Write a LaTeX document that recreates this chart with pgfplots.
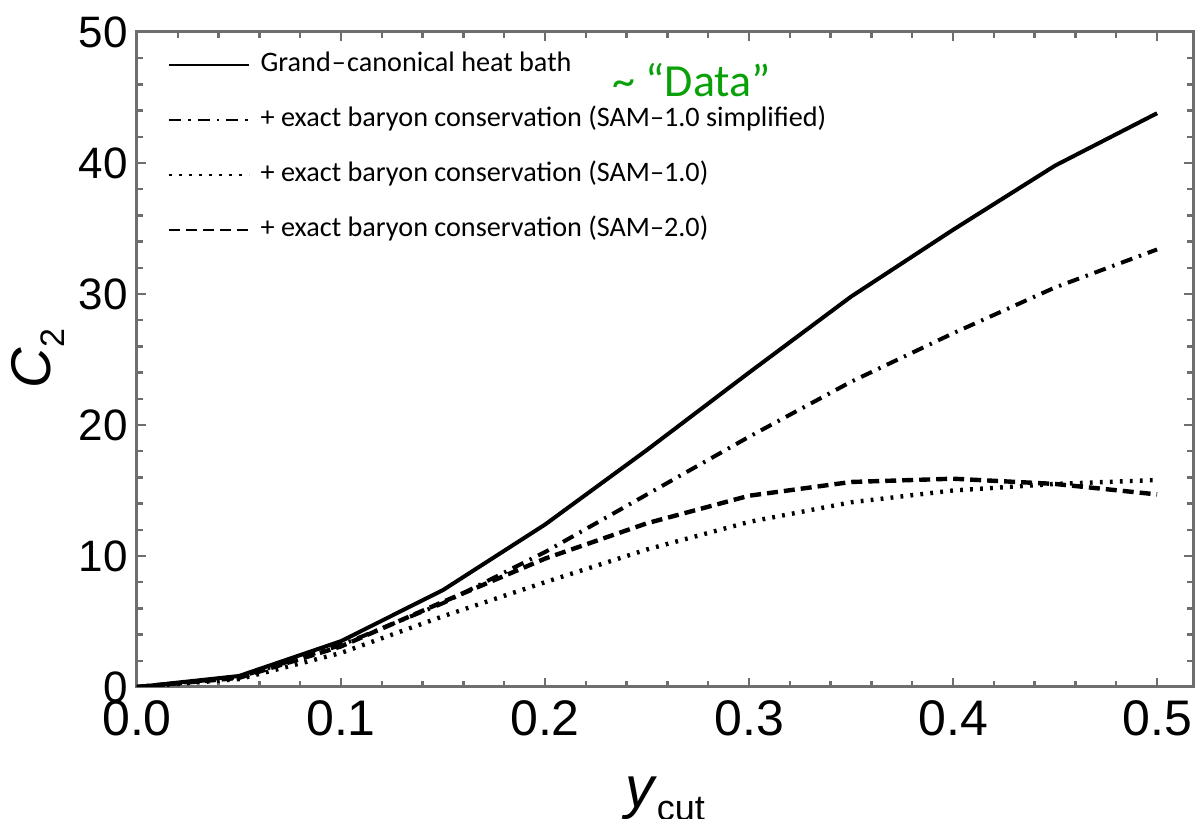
\documentclass[border=0pt]{standalone}
\usepackage{fontspec}
\setmainfont{Liberation Sans}
\newfontfamily\legfont{Carlito}
\newfontfamily\datafont{Carlito}
\usepackage{pgfplots}
\pgfplotsset{compat=1.18}
\definecolor{datagreen}{RGB}{10,160,10}
\definecolor{axgray}{RGB}{110,110,110}
\begin{document}
\begin{tikzpicture}
\begin{axis}[
  scale only axis, width=528pt, height=327.5pt,
  xmin=0, xmax=0.5176, ymin=0, ymax=50,
  /pgf/number format/assume math mode=true,
  axis line style={draw=axgray, line width=1.5pt},
  every tick/.style={axgray, line width=1.2pt},
  tick align=inside,
  major tick length=4.5pt, minor tick length=2.8pt,
  xtick={0,0.1,0.2,0.3,0.4,0.5}, xticklabels={0.0,0.1,0.2,0.3,0.4,0.5},
  ytick={0,10,20,30,40,50},
  minor x tick num=4, minor y tick num=4,
  yticklabel style={font=\fontsize{22}{24}\selectfont, inner sep=0pt, xshift=-4.5pt},
  xticklabel style={font=\fontsize{25}{27}\selectfont, inner sep=0pt, yshift=-6.5pt},
  xlabel={\fontsize{29}{30}\selectfont\textit{y}\raisebox{-0.22em}{\fontsize{18}{20}\selectfont cut}},
  xlabel style={at={(axis description cs:0.5,0)}, anchor=base, yshift=-60.5pt, inner sep=0pt},
  ylabel={\fontsize{28}{29}\selectfont\textit{C}\raisebox{-0.25em}{\fontsize{17}{17}\selectfont 2}},
  ylabel style={at={(axis description cs:-0.0938,0.502)}, anchor=center, inner sep=0pt},
  legend cell align=left,
  legend image code/.code={\draw[#1, line width=1.3pt] (0pt,0pt) -- (40pt,0pt);},
  legend style={at={(axis description cs:0.0294,0.9695)}, anchor=north west,
    draw=none, fill=none, inner sep=0pt, outer sep=0pt,
    font=\legfont\fontsize{14.1}{16}\selectfont,
    nodes={inner sep=0pt, text height=10pt, text depth=3pt},
    column sep=5pt, row sep=14.5pt},
]
\addplot[black, line width=2pt] coordinates {
 (0,0) (0.05,0.84) (0.1,3.5) (0.15,7.4) (0.2,12.4) (0.25,18.1) (0.3,24.0) (0.35,29.8) (0.4,34.9) (0.45,39.8) (0.5,43.8)};
\addlegendentry{Grand\kern0.04em–\kern0.04em canonical heat bath}
\addplot[black, line width=2pt, dash pattern=on 6pt off 3.5pt on 1.2pt off 3.5pt] coordinates {
 (0,0) (0.05,0.75) (0.1,3.2) (0.15,6.4) (0.2,10.3) (0.25,14.7) (0.3,19.1) (0.35,23.3) (0.4,27.0) (0.45,30.5) (0.5,33.4)};
\addlegendentry{+ exact baryon conservation (SAM–1.0 simplified)}
\addplot[black, line width=2.2pt, dash pattern=on 1.4pt off 3.6pt] coordinates {
 (0,0) (0.05,0.6) (0.1,2.6) (0.15,5.4) (0.2,8.0) (0.25,10.5) (0.3,12.6) (0.35,14.1) (0.4,15.0) (0.45,15.5) (0.5,15.8)};
\addlegendentry{+ exact baryon conservation (SAM–1.0)}
\addplot[black, line width=2.2pt, dash pattern=on 5.5pt off 3pt] coordinates {
 (0,0) (0.05,0.7) (0.1,3.1) (0.15,6.5) (0.2,9.8) (0.25,12.5) (0.3,14.6) (0.35,15.65) (0.4,15.9) (0.45,15.5) (0.5,14.7)};
\addlegendentry{+ exact baryon conservation (SAM–2.0)}
\end{axis}
\node[anchor=base west, inner sep=0pt, font=\datafont\fontsize{23}{26}\selectfont, text=datagreen] at (237.5pt,295pt) {\textasciitilde\ “Data”};
\pgfresetboundingbox
\useasboundingbox (-68.5pt,-66pt) rectangle (529.5pt,343.5pt);
\end{tikzpicture}
\end{document}
